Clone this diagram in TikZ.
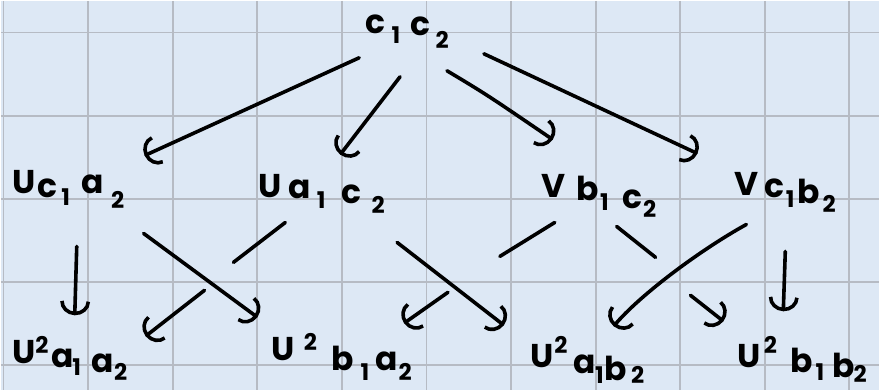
\documentclass[tikz,border=0pt]{standalone}
\usepackage{fontspec}
\setmainfont{Poppins}
\usetikzlibrary{arrows.meta,calc}
\definecolor{paper}{RGB}{221,232,245}
\definecolor{gridc}{RGB}{182,187,196}
% glyph at horizontal offset #1 (pt), dropped by #2 (pt)
\newcommand\gl[3]{\rlap{\hspace{#1pt}\raisebox{-#2pt}{#3}}}
\newcommand\sm[1]{{\fontsize{23}{23}\selectfont #1}}
\begin{document}
\begin{tikzpicture}[x=1pt,y=-1pt,
  lbl/.style={anchor=base west,inner sep=0pt,outer sep=0pt,font=\fontsize{33}{33}\selectfont\bfseries},
  ink/.style={line width=3.6pt,line cap=round,line join=round},
  arr/.style={ink,-{Arc Barb[arc=180,length=14pt,width=30pt]}}
]
\fill[paper] (0,0) rectangle (880,390);
\foreach \i in {0,...,10} \draw[gridc,line width=1.8pt] ({2.7+84.75*\i},0) -- ++(0,390);
\foreach \j in {0,...,4} \draw[gridc,line width=1.8pt] (0,{31.7+83.33*\j}) -- ++(880,0);
\useasboundingbox (0,0) rectangle (880,390);

\node[lbl] (c12) at (365,33) {\gl{0}{0}{c}\gl{26}{10}{\sm{1}}\gl{45}{2}{c}\gl{70}{15}{\sm{2}}};
\node[lbl] (n1) at (11,195) {\gl{0}{-2}{U}\gl{25}{2}{c}\gl{49}{10}{\sm{1}}\gl{69}{-2}{a}\gl{99}{13}{\sm{2}}};
\node[lbl] (n2) at (258,197) {\gl{0}{0}{U}\gl{30}{1}{a}\gl{58}{11}{\sm{1}}\gl{83}{6}{c}\gl{113}{16}{\sm{2}}};
\node[lbl] (n3) at (541,198) {\gl{0}{-1}{V}\gl{35}{2}{b}\gl{59}{12}{\sm{1}}\gl{81}{10}{c}\gl{102}{19}{\sm{2}}};
\node[lbl] (n4) at (735,197) {\gl{0}{-2}{V}\gl{30}{0}{c}\gl{51}{10}{\sm{1}}\gl{63}{6}{b}\gl{88}{15}{\sm{2}}};
\node[lbl] (m1) at (11,365) {\gl{0}{-2}{U}\gl{23}{-12}{\sm{2}}\gl{39}{2}{a}\gl{60}{10}{\sm{1}}\gl{79}{7}{a}\gl{102}{15}{\sm{2}}};
\node[lbl] (m2) at (271,367) {\gl{0}{-7}{U}\gl{32}{-17}{\sm{2}}\gl{60}{3}{b}\gl{89}{13}{\sm{1}}\gl{104}{3}{a}\gl{127}{13}{\sm{2}}};
\node[lbl] (m3) at (530,370) {\gl{0}{-3}{U}\gl{24}{-17}{\sm{2}}\gl{43}{3}{a}\gl{65}{13}{\sm{1}}\gl{74}{10}{b}\gl{101}{13}{\sm{2}}};
\node[lbl] (m4) at (738,370) {\gl{0}{-3}{U}\gl{26}{-17}{\sm{2}}\gl{53}{2}{b}\gl{78}{10}{\sm{1}}\gl{95}{7}{b}\gl{116}{12}{\sm{2}}};

\coordinate (g1) at (233,262);
\coordinate (g2) at (204,290);
\coordinate (g3) at (500,256);
\coordinate (g4) at (448,292);
\coordinate (g5) at (656,257);
\coordinate (g6) at (691,295);

% top level
\draw[arr] ($(c12.base west)+(-6,24)$) -- ($(n1.base west)+(133,-40)$);
\draw[arr] ($(c12.base west)+(35,43)$) -- ($(n2.base west)+(82,-43)$);
\draw[arr] ($(c12.base west)+(82,37)$) .. controls ($(c12.base west)+(122,61)$) .. ($(n3.base west)+(12,-59)$);
\draw[arr] ($(c12.base west)+(119,20)$) -- ($(n4.base west)+(-37,-44)$);

% bottom level
\draw[arr] ($(n1.base west)+(65,51)$) -- ($(m1.base west)+(63,-50)$);
\draw[arr] ($(n1.base west)+(132,38)$) -- ($(m2.base west)+(-14,-50)$);
\draw[ink] ($(n2.base west)+(27,25)$) -- (g1);
\draw[arr] (g2) -- ($(m1.base west)+(134,-29)$);
\draw[arr] ($(n2.base west)+(139,45)$) -- ($(m3.base west)+(-26,-45)$);
\draw[ink] ($(n3.base west)+(14,24)$) -- (g3);
\draw[arr] (g4) -- ($(m2.base west)+(133,-44)$);
\draw[ink] ($(n3.base west)+(76,28)$) -- (g5);
\draw[arr] (g6) -- ($(m4.base west)+(-14,-49)$);
\draw[arr] ($(n4.base west)+(12,27)$) .. controls ($(n4.base west)+(-35,53)$) and ($(n4.base west)+(-95,98)$) .. ($(m3.base west)+(84,-44)$);
\draw[arr] ($(n4.base west)+(51,54)$) -- ($(m4.base west)+(46,-59)$);
\end{tikzpicture}
\end{document}
